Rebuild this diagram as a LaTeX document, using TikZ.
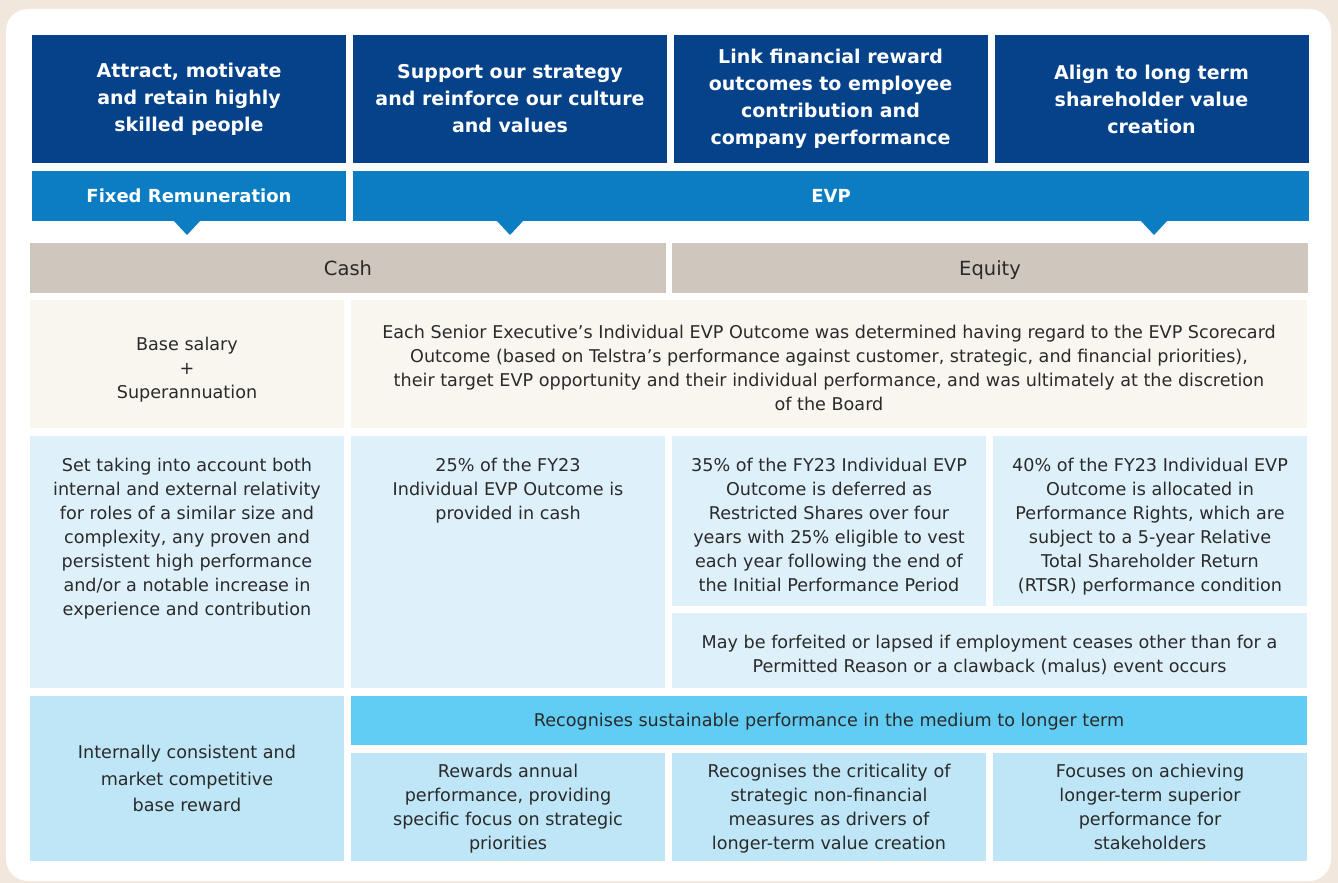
\documentclass[tikz,border=0pt]{standalone}
\usepackage{fontspec}
\setmainfont{DejaVu Sans}
\usetikzlibrary{positioning}

\definecolor{pagebeige}{HTML}{F2E7DC}
\definecolor{navy}{HTML}{05428A}
\definecolor{midblue}{HTML}{0C7DC2}
\definecolor{stone}{HTML}{CFC6BD}
\definecolor{cream}{HTML}{F9F6EF}
\definecolor{paleblue}{HTML}{DEF1FA}
\definecolor{softblue}{HTML}{BEE6F7}
\definecolor{skyblue}{HTML}{62CDF4}
\definecolor{inkgray}{HTML}{2A2A2A}

\begin{document}
\begin{tikzpicture}[x = 1pt, y = -1pt, every node/.style = { inner sep = 0pt, align = center, text = inkgray, font = \fontsize{17.6}{24}\selectfont },
  goal/.style = { fill = navy, text = white, minimum width = 314pt, minimum height = 128pt, font = \bfseries\fontsize{19}{27}\selectfont },
  plan/.style = { fill = midblue, text = white, minimum height = 50pt, text height = 12.8pt, text depth = 0pt, font = \bfseries\fontsize{18}{24}\selectfont },
  kind/.style = { fill = stone, minimum width = 636pt, minimum height = 50pt, text height = 14.2pt, text depth = 0pt, font = \fontsize{19.5}{24}\selectfont },
  cell/.style = { minimum width = 314pt }]
  \useasboundingbox (0, 0) rectangle (1338, 883);
  \fill [pagebeige] (0, 0) rectangle (1338, 883);
  \fill [white, rounded corners = 22pt] (6, 9) rectangle (1331, 881);

  \node [goal] (attract) at (189, 99) {Attract, motivate\\and retain highly\\skilled people};
  \node [goal] (strategy) at (510, 99) {Support our strategy\\and reinforce our culture\\and values};
  \node [goal] (link) at (830.5, 99) {Link financial reward\\outcomes to employee\\contribution and\\company performance};
  \node [goal] (align) at (1151.5, 99) {Align to long term\\shareholder value\\creation};

  \node [plan, minimum width = 314pt] (fixed) at (189, 196) {Fixed Remuneration};
  \node [plan, minimum width = 956pt] (evp) at (831, 196) {EVP};
  \foreach \x in {187, 510, 1154}
    \fill [midblue] (\x - 14, 220) -- (\x + 14, 220) -- (\x, 235) -- cycle;

  \node [kind] (cash) at (348, 268) {Cash};
  \node [kind] (equity) at (990, 268) {Equity};

  \node [cell, fill = cream, minimum height = 128pt] (base) at (187, 364) {};
  \node [below = 37pt of base.north] (basetext) {Base salary\\+\\Superannuation};
  \node [fill = cream, minimum width = 956pt, minimum height = 128pt] (senior) at (829, 364) {};
  \node [below = 25pt of senior.north] (seniortext) {Each Senior Executive’s Individual EVP Outcome was determined having regard to the EVP Scorecard\\Outcome (based on Telstra’s performance against customer, strategic, and financial priorities),\\their target EVP opportunity and their individual performance, and was ultimately at the discretion\\of the Board};

  \node [cell, fill = paleblue, minimum height = 252pt] (fixedbox) at (187, 562) {};
  \node [below = 22pt of fixedbox.north] (fixedtext) {Set taking into account both\\internal and external relativity\\for roles of a similar size and\\complexity, any proven and\\persistent high performance\\and/or a notable increase in\\experience and contribution};
  \node [cell, fill = paleblue, minimum height = 252pt] (cashbox) at (508, 562) {};
  \node [below = 22pt of cashbox.north] (cashtext) {25\% of the FY23\\Individual EVP Outcome is\\provided in cash};
  \node [cell, fill = paleblue, minimum height = 170pt] (sharebox) at (829, 521) {};
  \node [below = 22pt of sharebox.north] (sharetext) {35\% of the FY23 Individual EVP\\Outcome is deferred as\\Restricted Shares over four\\years with 25\% eligible to vest\\each year following the end of\\the Initial Performance Period};
  \node [cell, fill = paleblue, minimum height = 170pt] (rightbox) at (1150, 521) {};
  \node [below = 22pt of rightbox.north] (righttext) {40\% of the FY23 Individual EVP\\Outcome is allocated in\\Performance Rights, which are\\subject to a 5-year Relative\\Total Shareholder Return\\(RTSR) performance condition};
  \node [fill = paleblue, minimum width = 635pt, minimum height = 75pt] (forfeit) at (989.5, 650.5) {};
  \node [below = 22pt of forfeit.north] (forfeittext) {May be forfeited or lapsed if employment ceases other than for a\\Permitted Reason or a clawback (malus) event occurs};

  \node [cell, fill = softblue, minimum height = 165pt, font = \fontsize{17.6}{26.5}\selectfont] (consistent) at (187, 778.5) {Internally consistent and\\market competitive\\base reward};
  \node [fill = skyblue, minimum width = 956pt, minimum height = 49pt, text height = 12.8pt, text depth = 0pt] (medium) at (829, 720.5) {Recognises sustainable performance in the medium to longer term};
  \node [cell, fill = softblue, minimum height = 108pt] (annual) at (508, 807) {};
  \node [below = 11pt of annual.north] (annualtext) {Rewards annual\\performance, providing\\specific focus on strategic\\priorities};
  \node [cell, fill = softblue, minimum height = 108pt] (critical) at (829, 807) {};
  \node [below = 11pt of critical.north] (criticaltext) {Recognises the criticality of\\strategic non-financial\\measures as drivers of\\longer-term value creation};
  \node [cell, fill = softblue, minimum height = 108pt] (superior) at (1150, 807) {};
  \node [below = 11pt of superior.north] (superiortext) {Focuses on achieving\\longer-term superior\\performance for\\stakeholders};
\end{tikzpicture}
\end{document}
